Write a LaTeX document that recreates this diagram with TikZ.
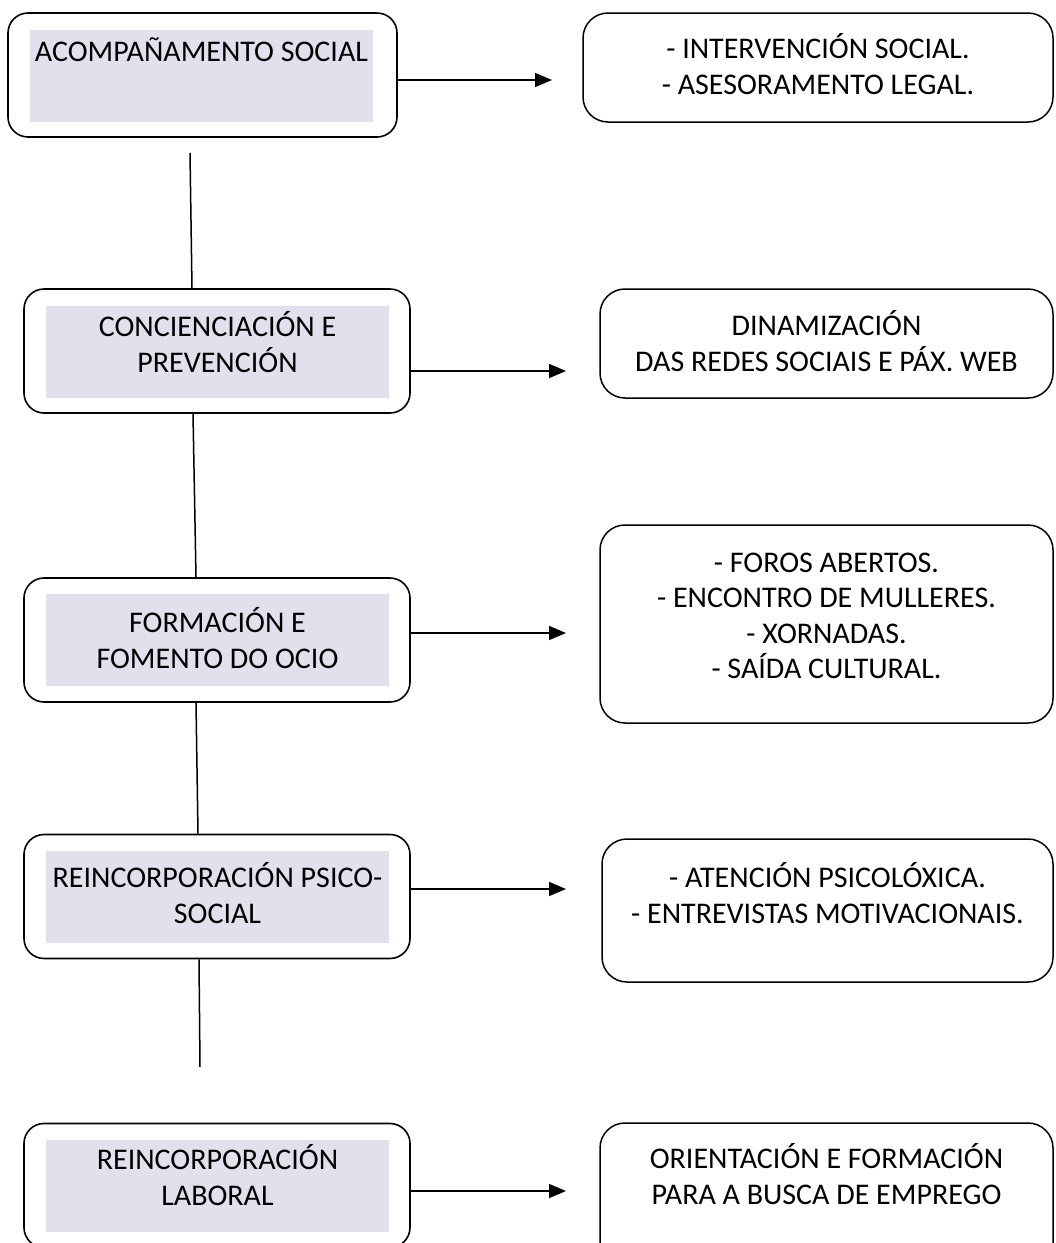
\documentclass[tikz,border=0pt]{standalone}
\usepackage{fontspec}
\setmainfont{Carlito}
\usetikzlibrary{positioning,arrows.meta}
\definecolor{lila}{HTML}{E4DFEC}

\begin{document}
\begin{tikzpicture}
[x=1pt,y=-1pt,
 >={Triangle[length=17pt,width=14pt]},
 eixo/.style={shape=rectangle,draw,line width=1.6pt,rounded corners=20pt,minimum width=386pt,minimum height=124pt,inner sep=0pt},
 fondo/.style={shape=rectangle,fill=lila,minimum width=343pt,minimum height=92pt,inner sep=0pt},
 titulo/.style={align=center,font=\fontsize{30}{35.5}\selectfont,inner sep=0pt},
 accion/.style={shape=rectangle,draw,line width=1.5pt,rounded corners=25pt,minimum width=453pt,inner sep=0pt},
 enlace/.style={line width=1.5pt}]
\useasboundingbox (0,0) rectangle (1056,1243);
\clip (0,0) rectangle (1056,1243);
% eixos de traballo
\node[eixo,minimum width=389pt] (acomp) at (202.5,75) {};
\node[fondo] (acompfondo) at (201.5,76) {};
\node[titulo] at (201.5,50) {ACOMPAÑAMENTO SOCIAL};
\node[eixo] (concien) at (217,351) {};
\node[fondo] (conciefondo) at (217.5,351.5) {};
\node[titulo] at (217.5,342) {CONCIENCIACIÓN E\\PREVENCIÓN};
\node[eixo] (formacion) at (217,640) {};
\node[fondo] (formfondo) at (217.5,640) {};
\node[titulo] at (217.5,638) {FORMACIÓN E\\FOMENTO DO OCIO};
\node[eixo] (reinps) at (217,896.5) {};
\node[fondo] (reinpsfondo) at (217.5,897) {};
\node[titulo] at (217.5,893) {REINCORPORACIÓN PSICO-\\SOCIAL};
\node[eixo] (reinlab) at (217,1185.5) {};
\node[fondo] (reinlabfondo) at (217.5,1186) {};
\node[titulo] at (217.5,1175) {REINCORPORACIÓN\\LABORAL};
% accions
\node[accion,minimum width=470pt,minimum height=109pt] (intervencion) at (818,67.5) {};
\node[titulo] at (818,64) {- INTERVENCIÓN SOCIAL.\\- ASESORAMENTO LEGAL.};
\node[accion,minimum height=109pt] (dinamiz) at (826.5,343.5) {};
\node[titulo] at (826.5,341) {DINAMIZACIÓN\\DAS REDES SOCIAIS E PÁX. WEB};
\node[accion,minimum height=198pt] (foros) at (826.5,624) {};
\node[titulo] at (826.5,616) {- FOROS ABERTOS.\\- ENCONTRO DE MULLERES.\\- XORNADAS.\\- SAÍDA CULTURAL.};
\node[accion,minimum width=451pt,minimum height=143pt] (atencion) at (827.5,910.5) {};
\node[titulo] at (827.5,893) {- ATENCIÓN PSICOLÓXICA.\\- ENTREVISTAS MOTIVACIONAIS.};
\node[accion,minimum height=170pt] (orientacion) at (826.5,1208) {};
\node[titulo] at (826.5,1174) {ORIENTACIÓN E FORMACIÓN\\PARA A BUSCA DE EMPREGO};
% frechas
\coordinate (p1) at (552,80);
\coordinate (p2) at (566,371);
\coordinate (p3) at (566,633);
\coordinate (p4) at (566,889);
\coordinate (p5) at (566,1191);
\draw[enlace,->] (acomp.east |- p1) -- (p1);
\draw[enlace,->] (concien.east |- p2) -- (p2);
\draw[enlace,->] (formacion.east |- p3) -- (p3);
\draw[enlace,->] (reinps.east |- p4) -- (p4);
\draw[enlace,->] (reinlab.east |- p5) -- (p5);
% liñas verticais
\coordinate (fin) at (200,1067);
\draw[enlace] ([xshift=-12.5pt,yshift=-15pt]acomp.south) -- ([xshift=-25pt]concien.north);
\draw[enlace] ([xshift=-24pt]concien.south) -- ([xshift=-21pt]formacion.north);
\draw[enlace] ([xshift=-21pt]formacion.south) -- ([xshift=-19pt]reinps.north);
\draw[enlace] ([xshift=-18pt]reinps.south) -- (fin);
\end{tikzpicture}
\end{document}
